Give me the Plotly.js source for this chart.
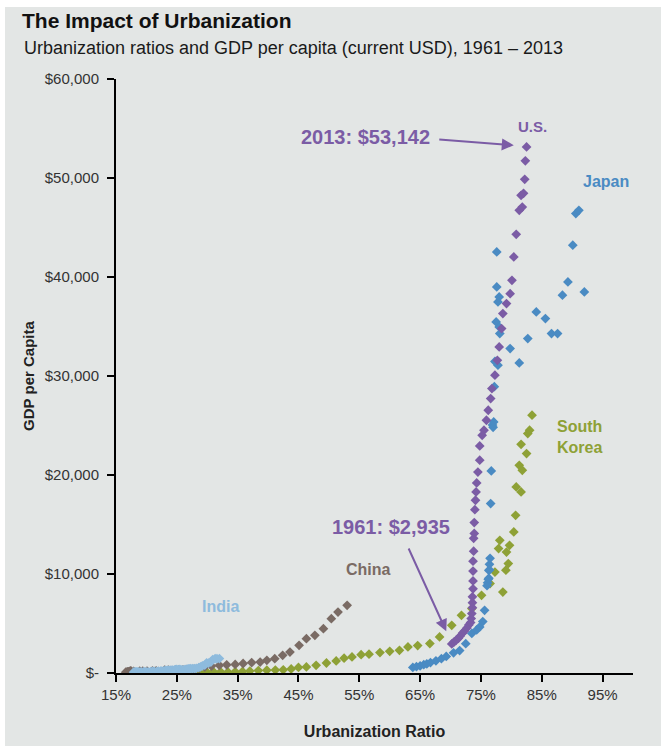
<!DOCTYPE html>
<html><head><meta charset="utf-8">
<script src="https://cdn.plot.ly/plotly-3.0.1.min.js"></script>
<style>
html,body{margin:0;padding:0;background:#ffffff;}
#bg{position:absolute;left:5px;top:7px;width:656px;height:739px;background:#e3e6e5;}
#chart{position:absolute;left:0;top:0;width:661px;height:746px;}
</style></head><body>
<div id="bg"></div><div id="chart"></div>
<script>
// Urbanization ratio (%) and GDP per capita (current USD), 1961-2013
const usUrban = [70.2,70.6,70.9,71.3,71.6,72.0,72.3,72.7,73.0,73.3, 73.4,73.5,73.6,73.6,73.6,73.7,73.7,73.7,73.7,73.8, 73.8,73.9,73.9,74.0,74.1,74.2,74.3,74.5,74.8,74.8, 75.2,75.5,75.9,76.2,76.6,76.8,77.3,77.7,78.0,78.4, 78.6,79.2,79.8,80.1,80.4,80.8,81.3,81.6,81.8,82.0, 82.2,82.3,82.5];
const usGdp = [2935,3150,3300,3500,3750,4050,4250,4550,4850,5100, 5500,6000,6600,7100,7700,8500,9300,10300,11300,12300, 13600,14100,15200,16500,17450,18290,19200,20300,21500,22930, 24010,24520,25530,26540,27720,28730,30080,31590,32940,34790, 36310,37320,38320,39670,42030,44310,46730,48250,47070,48450, 49870,51730,53142];

const jpUrban = [63.8,64.4,65.0,65.6,66.1,66.7,67.6,68.5,69.3,70.5, 71.5,72.5,73.5,74.3,74.8,75.3,75.6,76.0,76.1,76.2, 76.3,76.3,76.4,76.4,76.5,76.6,76.7,76.9,77.0,77.1, 77.2,77.3,77.5,77.6,77.6,77.8,78.1,77.8,78.0,78.0, 79.8,81.3,82.7,84.1,85.6,86.6,87.6,88.4,89.3,90.1, 90.6,91.1,92.0];
const jpGdp = [563,634,718,835,919,1059,1229,1450,1669,2037, 2272,2967,3997,4354,4659,5198,6335,8821,9105,9463, 10361,9578,10425,10984,11585,17112,20410,25052,24813,25359, 28925,31465,35466,39000,42530,37480,34290,31090,34960,37990, 32770,31320,33780,36470,35800,34290,34290,38160,39500,43210, 46410,46740,38490];

const krUrban = [28.8,29.9,31.0,32.2,33.4,34.6,35.8,37.0,38.4,39.8, 41.2,42.5,43.8,45.0,46.3,47.9,49.6,51.2,52.5,53.8, 55.3,56.6,58.4,60.0,61.6,63.0,64.6,66.6,68.2,70.2, 71.8,73.5,75.1,76.5,77.3,77.9,78.1,78.6,79.1,79.2, 79.5,79.7,80.4,80.7,80.8,81.3,81.6,81.8,81.6,82.5, 82.7,83.0,83.4];
const krGdp = [92,106,146,124,109,133,161,198,243,279, 301,323,406,563,615,780,1010,1220,1500,1620, 1850,1900,2060,2190,2290,2630,2770,2970,3640,4820, 5830,6510,7850,9030,10200,12570,13400,8180,10380,12220, 11050,12900,14250,15930,18790,20980,23100,20480,18290,22170, 24190,24520,26040];

const cnUrban = [17.9,17.3,16.8,16.6,16.8,16.9,17.0,17.0,17.1,17.2, 17.2,17.3,17.3,17.3,17.4,17.4,17.5,17.9,18.9,19.4, 20.1,21.0,21.6,22.9,23.0,23.6,24.2,24.8,25.3,26.0, 26.6,27.2,27.8,28.6,29.6,30.7,32.0,33.2,34.6,35.9, 37.3,38.7,39.8,41.1,42.4,43.6,45.1,46.3,47.7,49.1, 50.4,51.5,53.0];
const cnGdp = [76,70,74,85,98,104,97,91,100,113, 119,132,157,160,178,165,185,156,184,195, 197,203,225,251,294,282,252,284,311,318, 333,366,377,473,610,700,780,830,870,960, 1050,1110,1280,1450,1790,2120,2800,3470,3810,4480, 5490,6160,6840];

const inUrban = [17.9,18.0,18.2,18.4,18.6,18.8,19.0,19.2,19.5,19.7, 20.0,20.3,20.7,21.0,21.3,21.7,22.0,22.4,22.8,23.1, 23.4,23.6,23.9,24.1,24.3,24.6,24.8,25.0,25.3,25.5, 25.7,25.9,26.1,26.3,26.5,26.7,26.9,27.1,27.3,27.6, 27.9,28.2,28.6,28.9,29.2,29.6,29.9,30.2,30.6,30.9, 31.3,31.6,32.0];
const inGdp = [85,90,101,116,119,90,96,99,107,112, 118,122,143,163,158,161,186,206,224,267, 270,274,291,277,296,310,340,354,346,368, 303,317,301,346,374,400,415,413,442,443, 452,471,546,628,715,807,1028,999,1102,1358, 1462,1447,1456];

const xTicks = [15,25,35,45,55,65,75,85,95];
const xTickText = ['15%','25%','35%','45%','55%','65%','75%','85%','95%'];
const yTicks = [0,10000,20000,30000,40000,50000,60000];
const yTickText = ['$-','$10,000','$20,000','$30,000','$40,000','$50,000','$60,000'];

const C = {us:'#7b5ca5', jp:'#4a8bc3', kr:'#8ea136', cn:'#7a6b64', in:'#8ebbdd'};
const FONT = 'Liberation Sans, Arial, sans-serif';

// subtitle uses a narrow face when available
function hasFont(name){
  const c = document.createElement('canvas').getContext('2d');
  const s = 'Urbanization ratios and GDP 1961';
  c.font = '40px monospace'; const a = c.measureText(s).width;
  c.font = "40px '" + name + "', monospace"; const b = c.measureText(s).width;
  return Math.abs(a - b) > 1;
}
const narrow = hasFont('Liberation Sans Narrow');
const subFont = narrow ? {family:"'Liberation Sans Narrow', sans-serif", size:22, color:'#1a1a1a'}
                       : {family:FONT, size:18, color:'#1a1a1a'};

function series(name, x, y, color){
  return {type:'scatter', mode:'markers', name:name, x:x, y:y,
    marker:{symbol:'diamond', size:7.5, color:color, line:{width:0}}, hoverinfo:'x+y+name'};
}
const data = [
  series('South Korea', krUrban, krGdp, C.kr),
  series('Japan', jpUrban, jpGdp, C.jp),
  series('U.S.', usUrban, usGdp, C.us),
  series('China', cnUrban, cnGdp, C.cn),
  series('India', inUrban, inGdp, C.in)
];

function lbl(text, x, y, color, size){
  return {text:text, x:x, y:y, xref:'x', yref:'y', showarrow:false,
    font:{family:FONT, size:size, color:color, weight:'bold'}, xanchor:'center', yanchor:'middle'};
}
const annotations = [
  lbl('U.S.', 83.5, 55250, C.us, 15),
  lbl('Japan', 95.5, 49660, C.jp, 16),
  {text:'South<br>Korea', x:87.2, y:23810, xref:'x', yref:'y', showarrow:false, align:'left',
    font:{family:FONT, size:16, color:C.kr, weight:'bold'}, xanchor:'left', yanchor:'middle'},
  lbl('China', 56.5, 10480, C.cn, 16),
  lbl('India', 32.1, 6670, C.in, 16),
  lbl('2013: $53,142', 56.05, 54150, C.us, 20),
  lbl('1961: $2,935', 60.2, 14750, C.us, 20),
  {text:'', x:80.4, y:53300, ax:67.9, ay:53890, xref:'x', yref:'y', axref:'x', ayref:'y',
    showarrow:true, arrowhead:2, arrowsize:1.2, arrowwidth:2, arrowcolor:C.us, standoff:0, startstandoff:0},
  {text:'', x:69.3, y:4210, ax:63.0, ay:12730, xref:'x', yref:'y', axref:'x', ayref:'y',
    showarrow:true, arrowhead:2, arrowsize:1.2, arrowwidth:2, arrowcolor:C.us, standoff:0, startstandoff:0},
  {text:'Urbanization ratios and GDP per capita (current USD), 1961 \u2013 2013', xref:'paper', yref:'paper',
    x:-0.1818, y:1.0522, xanchor:'left', yanchor:'middle', showarrow:false, font:subFont}
];

const layout = {
  width:661, height:746,
  margin:{l:116, r:28, t:79, b:73},
  paper_bgcolor:'rgba(0,0,0,0)', plot_bgcolor:'rgba(0,0,0,0)',
  showlegend:false,
  title:{text:'<b>The Impact of Urbanization</b>', xref:'container', yref:'container',
    x:22/661, y:1-21/746, xanchor:'left', yanchor:'middle',
    font:{family:FONT, size:21, color:'#111'}},
  xaxis:{range:[15,100], tickvals:xTicks, ticktext:xTickText, showgrid:false, zeroline:false,
    showline:true, linecolor:'#000', linewidth:2, ticks:'outside', ticklen:7, tickwidth:2, tickcolor:'#000',
    tickfont:{family:FONT, size:15, color:'#333'}, automargin:false,
    title:{text:'<b>Urbanization Ratio</b>', standoff:24, font:{family:FONT, size:16, color:'#222'}}},
  yaxis:{range:[0,60000], tickvals:yTicks, ticktext:yTickText, showgrid:false, zeroline:false,
    showline:true, linecolor:'#000', linewidth:2, ticks:'outside', ticklen:7, tickwidth:2, tickcolor:'#000',
    tickfont:{family:FONT, size:15, color:'#333'}, ticklabelstandoff:5, automargin:false,
    title:{text:'<b>GDP per Capita</b>', standoff:7, font:{family:FONT, size:15, color:'#222'}}},
  annotations:annotations
};
Plotly.newPlot('chart', data, layout, {displayModeBar:false, staticPlot:true});
</script>
</body></html>
